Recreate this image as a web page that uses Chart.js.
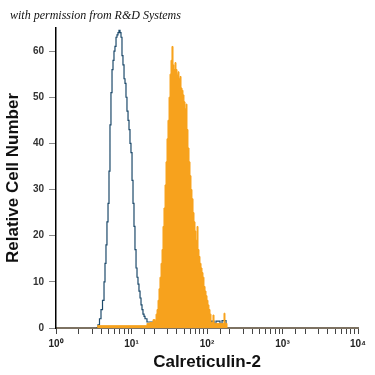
<!DOCTYPE html>
<html><head><meta charset="utf-8">
<style>
html,body{margin:0;padding:0;background:#fff;}
#wrap{position:relative;width:375px;height:375px;overflow:hidden;}
#note{position:absolute;left:10px;top:8px;font:italic 12px "Liberation Serif",serif;color:#111;white-space:nowrap;}
canvas{position:absolute;left:0;top:0;}
</style>
<script src="https://cdn.jsdelivr.net/npm/chart.js@4/dist/chart.umd.min.js"></script>
</head><body>
<div id="wrap"><canvas id="c" width="375" height="375"></canvas><div id="note">with permission from R&amp;D Systems</div></div>
<script>
// log10 of fluorescence intensity (bin start) and cell counts
const controlLogIntensity = [0.530,0.556,0.576,0.596,0.616,0.636,0.649,0.662,0.675,0.689,0.702,0.715,0.728,0.742,0.755,0.768,0.781,0.795,0.808,0.821,0.834,0.848,0.861,0.874,0.887,0.901,0.914,0.927,0.940,0.954,0.967,0.980,0.993,1.007,1.020,1.033,1.046,1.060,1.073,1.086,1.099,1.113,1.126,1.139,1.152,1.166,1.179,1.205,1.311,2.053,2.093,2.119,2.172,2.199,2.252];
const controlCounts      = [0,0.7,2,4,6,10,14,18,23,27,34,44,51,56,58,60,61,63,63.5,64,64.5,64,63,59,57,54,53,50,47,45,43,40,38,32,27,22,17,13,11,9.5,8,6.5,5,4,3,2.5,2,1.3,0,1.5,0.8,1.5,0.8,1.6,0];

const sampleLogIntensity = [0.545,1.205,1.245,1.285,1.311,1.325,1.338,1.351,1.364,1.377,1.391,1.404,1.417,1.430,1.444,1.457,1.470,1.483,1.497,1.510,1.523,1.536,1.550,1.563,1.576,1.589,1.603,1.616,1.629,1.642,1.656,1.669,1.682,1.695,1.709,1.722,1.735,1.748,1.762,1.775,1.788,1.801,1.815,1.828,1.841,1.854,1.868,1.881,1.894,1.907,1.921,1.934,1.947,1.960,1.974,1.987,2.000,2.013,2.026,2.040,2.053,2.079,2.093,2.199,2.225,2.238,2.265];
const sampleCounts       = [0.5,1,1.2,1.8,1.7,3,4,6,8.5,11,14,17,22,26,31,36,41,45,50,55,58,61,57,56,57.5,56,55,55.5,54,54.5,52,51.5,50.5,49,47.5,48.5,43,39,36,33,30,28,25,23,21,19,22,17,15.5,14,13,12,11,9,8,7,6,5,4,3,1.2,2.8,1,1,3.2,1,0];

const yTickValues = [0,10,20,30,40,50,60];
const xDecadeLabels = ['10\u2070','10\u00B9','10\u00B2','10\u00B3','10\u2074'];

const toPoints = (lx, ys) => lx.map((l, i) => ({x: Math.pow(10, l), y: ys[i]}));

const ctx = document.getElementById('c').getContext('2d');
new Chart(ctx, {
  type: 'line',
  data: {
    datasets: [
      {label: 'Calreticulin-2', data: toPoints(sampleLogIntensity, sampleCounts), stepped: true, fill: 'origin',
       backgroundColor: '#f7a21d', borderColor: '#f7a21d', borderWidth: 1, pointRadius: 0, order: 1},
      {label: 'Isotype control', data: toPoints(controlLogIntensity, controlCounts), stepped: true, fill: false,
       borderColor: '#1d4a6b', borderWidth: 1.2, pointRadius: 0, order: 2}
    ]
  },
  options: {
    responsive: false, animation: false, devicePixelRatio: 1,
    layout: {padding: {top: 28, right: 17, bottom: 0, left: 0}},
    plugins: {legend: {display: false}, tooltip: {enabled: false}},
    scales: {
      x: {
        type: 'logarithmic', min: 1, max: 10000,
        border: {display: true, color: '#7d7262', width: 2},
        grid: {display: true, drawOnChartArea: false, drawTicks: true, tickLength: 6, tickColor: '#444', lineWidth: 1},
        ticks: {autoSkip: false, maxRotation: 0, minRotation: 0, padding: 4, color: '#222',
          font: {family: 'Liberation Sans', size: 10, weight: 'bold'},
          callback: (v) => { const l = Math.log10(v); const r = Math.round(l); return Math.abs(l - r) < 1e-6 ? xDecadeLabels[r] : ''; }},
        title: {display: true, text: 'Calreticulin-2', color: '#111', font: {family: 'Liberation Sans', size: 17, weight: 'bold'}, padding: {top: 0, bottom: 2}},
        afterFit: (s) => { s.height = 47; }
      },
      y: {
        min: 0, max: 65,
        border: {display: true, color: '#000', width: 1.5},
        grid: {display: true, drawOnChartArea: false, tickLength: 7, tickColor: '#888'},
        afterBuildTicks: (s) => { s.ticks = yTickValues.map(v => ({value: v})); },
        ticks: {padding: 5, color: '#333', font: {family: 'Liberation Sans', size: 10, weight: 'bold'}},
        title: {display: true, text: 'Relative Cell Number', color: '#111', font: {family: 'Liberation Sans', size: 17, weight: 'bold'}, padding: {top: 3, bottom: 0}},
        afterFit: (s) => { s.width = 56; }
      }
    }
  }
});
</script>
</body></html>
